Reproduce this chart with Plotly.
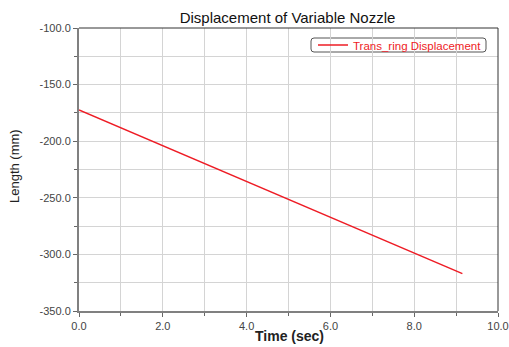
import plotly.graph_objects as go

time_sec = [0.0, 1.0, 2.0, 3.0, 4.0, 5.0, 6.0, 7.0, 8.0, 9.0, 9.15]
trans_ring_disp = [-172.4, -188.2, -204.0, -219.8, -235.6, -251.4, -267.2, -283.0, -298.8, -314.6, -317.0]

x_tick_vals = [0, 2, 4, 6, 8, 10]
x_tick_text = ["0.0", "2.0", "4.0", "6.0", "8.0", "10.0"]
y_tick_vals = [-350, -300, -250, -200, -150, -100]
y_tick_text = ["-350.0", "-300.0", "-250.0", "-200.0", "-150.0", "-100.0"]

W, H = 509, 347
L, R, T, B = 79, 498, 28, 311
pw, ph = R - L, B - T


def px_x(p):
    return (p - L) / pw


def px_y(p):
    return (B - p) / ph


font_family = "Liberation Sans, Arial, sans-serif"

fig = go.Figure()
fig.add_trace(go.Scatter(x=time_sec, y=trans_ring_disp, mode="lines",
                         name="Trans_ring Displacement",
                         line=dict(color="#ee1c25", width=1.5)))

fig.update_layout(
    width=W, height=H,
    margin=dict(l=L, r=W - R, t=T, b=H - B, autoexpand=False),
    paper_bgcolor="white", plot_bgcolor="white",
    font=dict(family=font_family, size=11, color="#333333"),
    title=dict(text="Displacement of Variable Nozzle", x=287.5 / W, xanchor="center",
               y=1 - 18 / H, yanchor="middle",
               font=dict(size=15, color="#111111", family=font_family)),
    showlegend=True,
    legend=dict(x=px_x(313), y=px_y(45), xanchor="left", yanchor="middle",
                bgcolor="rgba(0,0,0,0)", borderwidth=0,
                font=dict(color="#ee1c25", size=11.5, family=font_family),
                itemwidth=30, tracegroupgap=0),
)
fig.update_xaxes(
    range=[0, 10], tickmode="array", tickvals=x_tick_vals, ticktext=x_tick_text,
    showgrid=True, gridcolor="#d4d4d4", gridwidth=1,
    minor=dict(dtick=1, tick0=0, showgrid=True, gridcolor="#d4d4d4", ticks="outside", ticklen=3, tickcolor="#666666"),
    ticks="outside", ticklen=4, tickcolor="#666666",
    showline=True, linecolor="#808080", linewidth=2, mirror=False,
    zeroline=False, automargin=False,
    tickfont=dict(size=11, color="#444444"),
)
fig.update_yaxes(
    range=[-350, -100], tickmode="array", tickvals=y_tick_vals, ticktext=y_tick_text,
    showgrid=True, gridcolor="#d4d4d4", gridwidth=1,
    minor=dict(dtick=25, tick0=-350, showgrid=True, gridcolor="#d4d4d4", ticks="outside", ticklen=3, tickcolor="#666666"),
    ticks="outside", ticklen=4, tickcolor="#666666",
    showline=True, linecolor="#808080", linewidth=2, mirror=False,
    zeroline=False, automargin=False,
    tickfont=dict(size=11, color="#444444"),
)
# axis titles
fig.add_annotation(text="<b>Time (sec)</b>", xref="paper", yref="paper", x=px_x(289), y=0,
                   xanchor="center", yanchor="middle", yshift=-(336 - B), showarrow=False,
                   font=dict(size=14, color="#222222", family=font_family))
fig.add_annotation(text="Length (mm)", xref="paper", yref="paper", x=0, y=px_y(166),
                   xanchor="center", yanchor="middle", xshift=-(L - 14), textangle=-90,
                   showarrow=False, font=dict(size=13, color="#222222", family=font_family))
# thin dark border on top and right
fig.add_shape(type="line", xref="paper", yref="paper", x0=0, x1=1, y0=1, y1=1,
              line=dict(color="#333333", width=1))
fig.add_shape(type="line", xref="paper", yref="paper", x0=1, x1=1, y0=0, y1=1,
              line=dict(color="#333333", width=1))
# rounded legend frame
x0, x1, y0, y1 = px_x(311), px_x(486), px_y(52), px_y(38)
rx, ry = 3 / pw, 3 / ph
path = (f"M {x0 + rx},{y0} L {x1 - rx},{y0} Q {x1},{y0} {x1},{y0 + ry} "
        f"L {x1},{y1 - ry} Q {x1},{y1} {x1 - rx},{y1} L {x0 + rx},{y1} "
        f"Q {x0},{y1} {x0},{y1 - ry} L {x0},{y0 + ry} Q {x0},{y0} {x0 + rx},{y0} Z")
fig.add_shape(type="path", xref="paper", yref="paper", path=path,
              line=dict(color="#555555", width=1), fillcolor="white", layer="below")

fig.write_html("out.html", config={"displayModeBar": False},
               post_script="document.body.style.margin='0';document.body.style.overflow='hidden';")
